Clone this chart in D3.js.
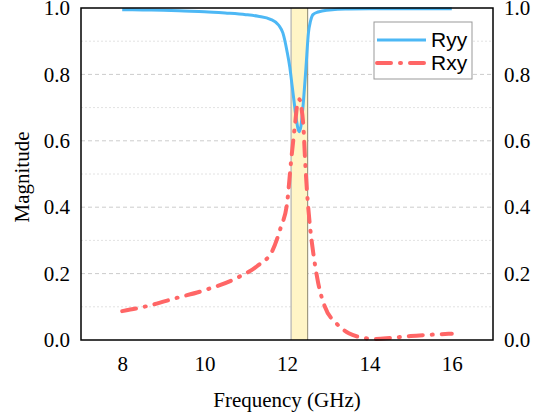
<!DOCTYPE html>
<html>
<head>
<meta charset="utf-8">
<script src="https://cdn.jsdelivr.net/npm/d3@7"></script>
<style>
  body { margin: 0; background: #fff; }
  svg { display: block; }
</style>
</head>
<body>
<svg id="chart"></svg>
<script>
// data
const ryyFreq = [8.0, 8.5, 9.0, 9.5, 10.0, 10.5, 11.0, 11.3, 11.6, 11.8, 11.9, 12.0, 12.07, 12.12, 12.17, 12.22, 12.27, 12.3, 12.34, 12.4, 12.46, 12.52, 12.57, 12.63, 12.75, 12.85, 13.1, 13.5, 14.0, 15.0, 16.0]
const ryyVal = [0.995, 0.994, 0.993, 0.991, 0.989, 0.985, 0.980, 0.975, 0.966, 0.948, 0.925, 0.87, 0.82, 0.77, 0.72, 0.67, 0.635, 0.627, 0.645, 0.72, 0.82, 0.925, 0.96, 0.98, 0.988, 0.991, 0.995, 0.997, 0.998, 0.998, 0.998]

const rxyFreq = [8.0, 8.6, 9.3, 10.0, 10.8, 11.3, 11.65, 11.85, 12.0, 12.1, 12.2, 12.25, 12.3, 12.35, 12.4, 12.44, 12.49, 12.56, 12.64, 12.76, 12.92, 13.2, 13.5, 13.8, 14.1, 14.5, 15.0, 15.5, 16.0]
const rxyVal = [0.087, 0.102, 0.126, 0.15, 0.188, 0.225, 0.27, 0.34, 0.41, 0.54, 0.655, 0.71, 0.725, 0.70, 0.64, 0.54, 0.44, 0.34, 0.26, 0.17, 0.10, 0.05, 0.02, 0.008, 0.003, 0.006, 0.012, 0.016, 0.019]

const xTicks = [8, 10, 12, 14, 16]
const yTicks = [0, 0.2, 0.4, 0.6, 0.8, 1.0]
const yMinor = [0.1, 0.3, 0.5, 0.7, 0.9]
const band = [12.1, 12.5]
const seriesNames = ["Ryy", "Rxy"]

const W = 546, H = 417
const margin = { left: 81, top: 8, right: 53, bottom: 77 }
const blue = "#4db8f5", red = "#ff6666"
const serif = "'Liberation Serif', 'Times New Roman', serif"
const sans = "'Liberation Sans', Arial, sans-serif"

const svg = d3.select("#chart").attr("width", W).attr("height", H)

const x = d3.scaleLinear().domain([7, 17]).range([margin.left, W - margin.right])
const y = d3.scaleLinear().domain([0, 1]).range([H - margin.bottom, margin.top])

// grid
svg.append("g").selectAll("line").data(yMinor).join("line")
    .attr("x1", x(7)).attr("x2", x(17))
    .attr("y1", d => y(d)).attr("y2", d => y(d))
    .attr("stroke", "#e2e2e2").attr("stroke-width", 1).attr("stroke-dasharray", "2,2")
svg.append("g").selectAll("line").data(yTicks.slice(1, -1)).join("line")
    .attr("x1", x(7)).attr("x2", x(17))
    .attr("y1", d => y(d)).attr("y2", d => y(d))
    .attr("stroke", "#cccccc").attr("stroke-width", 1).attr("stroke-dasharray", "4,3")

// highlighted band
svg.append("rect")
    .attr("x", x(band[0])).attr("y", y(1))
    .attr("width", x(band[1]) - x(band[0])).attr("height", y(0) - y(1))
    .attr("fill", "#fff5c6")
svg.append("line")
    .attr("x1", x(band[0])).attr("x2", x(band[0])).attr("y1", y(1)).attr("y2", y(0))
    .attr("stroke", "#c2c0b8").attr("stroke-width", 1.5)
svg.append("line")
    .attr("x1", x(band[1])).attr("x2", x(band[1])).attr("y1", y(1)).attr("y2", y(0))
    .attr("stroke", "#a09a80").attr("stroke-width", 1.2)

// curves
const line = d3.line().x(d => x(d[0])).y(d => y(d[1])).curve(d3.curveMonotoneX)
svg.append("path")
    .attr("d", line(d3.zip(ryyFreq, ryyVal)))
    .attr("fill", "none").attr("stroke", blue).attr("stroke-width", 3)
svg.append("path")
    .attr("d", line(d3.zip(rxyFreq, rxyVal)))
    .attr("fill", "none").attr("stroke", red).attr("stroke-width", 4)
    .attr("stroke-linecap", "round")
    .attr("stroke-dasharray", "14,9,1,9")

// frame
svg.append("rect")
    .attr("x", x(7)).attr("y", y(1))
    .attr("width", x(17) - x(7)).attr("height", y(0) - y(1))
    .attr("fill", "none").attr("stroke", "#000").attr("stroke-width", 1.5)

// axes (no tick marks, labels only)
const fmt = d3.format(".1f")
svg.append("g").attr("transform", `translate(${margin.left},0)`)
    .call(d3.axisLeft(y).tickValues(yTicks).tickFormat(fmt).tickSize(0).tickPadding(11))
    .call(g => g.select(".domain").remove())
svg.append("g").attr("transform", `translate(${W - margin.right},0)`)
    .call(d3.axisRight(y).tickValues(yTicks).tickFormat(fmt).tickSize(0).tickPadding(11))
    .call(g => g.select(".domain").remove())
svg.append("g").attr("transform", `translate(0,${H - margin.bottom})`)
    .call(d3.axisBottom(x).tickValues(xTicks).tickFormat(d3.format("d")).tickSize(0).tickPadding(16))
    .call(g => g.select(".domain").remove())
svg.selectAll(".tick text")
    .attr("font-family", serif).attr("font-size", 21).attr("fill", "#000")

svg.append("text")
    .attr("x", (x(7) + x(17)) / 2).attr("y", 407)
    .attr("text-anchor", "middle")
    .attr("font-family", serif).attr("font-size", 21)
    .text("Frequency (GHz)")
svg.append("text")
    .attr("transform", `translate(29,${(y(0) + y(1)) / 2 + 3}) rotate(-90)`)
    .attr("text-anchor", "middle")
    .attr("font-family", serif).attr("font-size", 21)
    .text("Magnitude")

// legend
const legend = svg.append("g").attr("transform", "translate(374,22)")
legend.append("rect")
    .attr("width", 98).attr("height", 57)
    .attr("fill", "#fff").attr("stroke", "#999").attr("stroke-width", 1)
const styles = [
    { color: blue, width: 3, dash: null },
    { color: red, width: 4, dash: "14,9,1,9" }
]
seriesNames.forEach((name, i) => {
    const cy = 18 + i * 23
    legend.append("line")
        .attr("x1", 3).attr("x2", 52).attr("y1", cy).attr("y2", cy)
        .attr("stroke", styles[i].color).attr("stroke-width", styles[i].width)
        .attr("stroke-linecap", styles[i].dash ? "round" : "butt")
        .attr("stroke-dasharray", styles[i].dash)
    legend.append("text")
        .attr("x", 57).attr("y", cy + 7)
        .attr("font-family", sans).attr("font-size", 21)
        .text(name)
})
</script>
</body>
</html>
